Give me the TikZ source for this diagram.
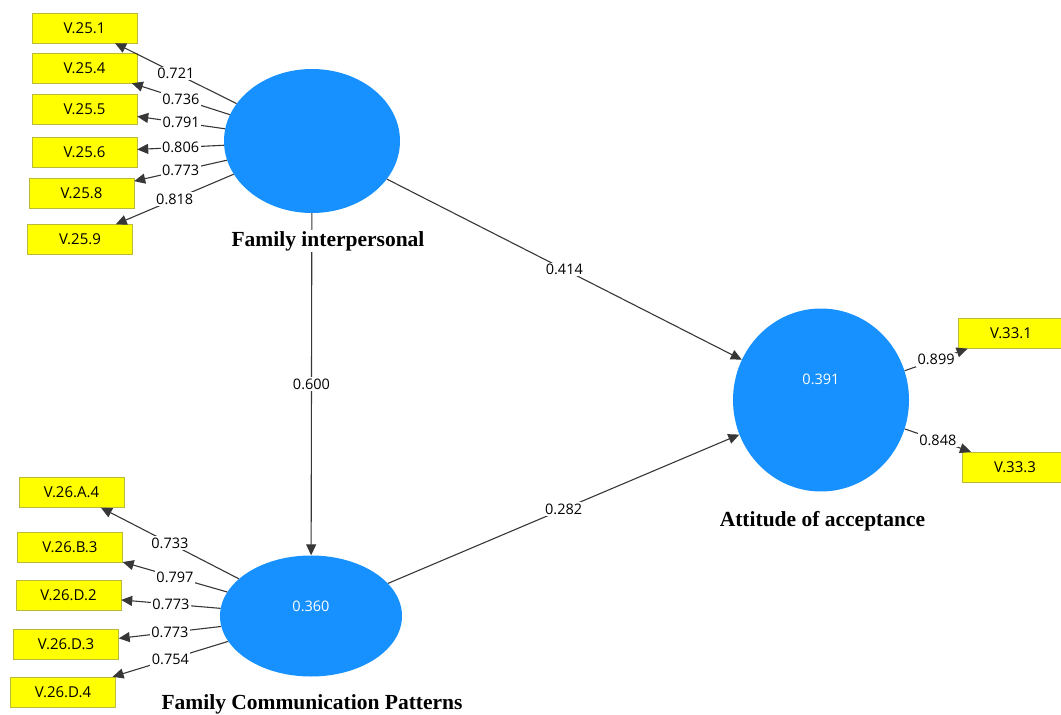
\documentclass[tikz,border=0pt]{standalone}
\usepackage{fontspec}
\setmainfont{Liberation Serif}
\newfontfamily\plsfont{Open Sans}
\usetikzlibrary{arrows.meta,shapes.geometric}
\definecolor{lvblue}{RGB}{22,145,255}
\definecolor{mvyellow}{RGB}{255,255,0}
\definecolor{mvedge}{RGB}{185,185,60}
\definecolor{linkgray}{RGB}{55,55,55}
\begin{document}
\begin{tikzpicture}[x=1pt,y=-1pt,
  mv/.style={draw=mvedge, fill=mvyellow, minimum width=105pt, minimum height=30pt, inner sep=0pt, font=\plsfont\fontsize{15}{17}\selectfont},
  lv/.style={ellipse, fill=lvblue, inner sep=0pt},
  lvname/.style={fill=white, inner sep=1pt, font=\bfseries\fontsize{21.5}{24}\selectfont},
  link/.style={draw=linkgray, line width=1.1pt, -{Triangle[length=11pt,width=10pt]}},
  coef/.style={fill=white, inner sep=1.5pt, font=\plsfont\fontsize{14.5}{16}\selectfont}]
\useasboundingbox (0,0) rectangle (1061,715);
% latent variables
\node[lv, minimum width=176pt, minimum height=144pt] (fi) at (312,141) {};
\node[lv, minimum width=182pt, minimum height=121pt,
  label={[white, font=\plsfont\fontsize{14.5}{16}\selectfont, yshift=10pt]center:0.360}] (fcp) at (311,616) {};
\node[lv, minimum width=176pt, minimum height=183pt,
  label={[white, font=\plsfont\fontsize{14.5}{16}\selectfont, yshift=21pt]center:0.391}] (att) at (821,400) {};
% indicators
\foreach \n/\x/\y/\t in {v251/84.5/28/V.25.1, v254/84.5/68/V.25.4, v255/84.5/109/V.25.5,
  v256/84.5/152/V.25.6, v258/81.5/193/V.25.8, v259/80/239.5/V.25.9,
  v26a4/71.5/492.5/V.26.A.4, v26b3/70/547/V.26.B.3, v26d2/68.5/595.5/V.26.D.2,
  v26d3/66/644.5/V.26.D.3, v26d4/63/692/V.26.D.4,
  v331/1011/333.5/V.33.1, v333/1015/467/V.33.3} {
\node[mv] (\n) at (\x,\y) {\t};}
% outer loadings
\foreach \b/\v in {v251/0.721, v254/0.736, v255/0.791, v256/0.806, v258/0.773, v259/0.818} {
\draw[link] (fi) -- node[coef] {\v} (\b);}
\foreach \b/\v in {v26a4/0.733, v26b3/0.797, v26d2/0.773, v26d3/0.773, v26d4/0.754} {
\draw[link] (fcp) -- node[coef] {\v} (\b);}
\foreach \b/\v in {v331/0.899, v333/0.848} {
\draw[link] (att) -- node[coef] {\v} (\b);}
% path coefficients
\draw[link] (fi) -- node[coef] {0.600} (fcp);
\draw[link] (fi) -- node[coef] {0.414} (att);
\draw[link] (fcp) -- node[coef] {0.282} (att);
% construct names
\node[lvname] (finame) at (328,241) {Family interpersonal};
\node[lvname] (fcpname) at (312,704) {Family Communication Patterns};
\node[lvname] (attname) at (822.5,521) {Attitude of acceptance};
\end{tikzpicture}
\end{document}
